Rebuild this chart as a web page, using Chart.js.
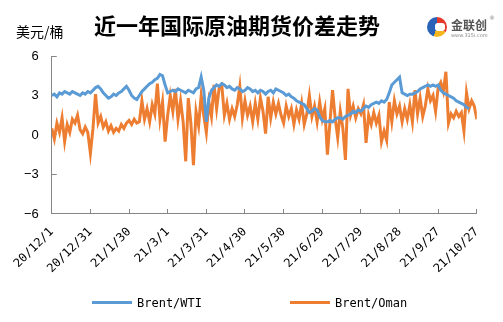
<!DOCTYPE html>
<html>
<head>
<meta charset="utf-8">
<script src="https://cdn.jsdelivr.net/npm/chart.js@4.4.0/dist/chart.umd.min.js"></script>
<style>
    body { margin: 0; background: #fff; }
    #wrap { position: relative; width: 503px; height: 322px; }
    #title { position: absolute; left: 0; top: 8px; width: 474px; text-align: center; line-height: 26px;
        font: bold 22px "Noto Sans CJK SC"; color: #000; }
    #unit { position: absolute; left: 16px; top: 21px; font: 14px "Noto Sans CJK SC"; color: #000; }
    #logo { position: absolute; left: 427px; top: 14px; width: 70px; height: 26px; }
    #logo .icon { position: absolute; left: 0; top: 3px; width: 20px; height: 20px; border-radius: 50%;
        background: conic-gradient(#e8382b 0 120deg, #f4b51f 120deg 200deg, #2a62b8 200deg 360deg); }
    #logo .icon::after { content: ''; position: absolute; left: 8px; top: 6px; width: 10px; height: 8px; background: #fff; border-radius: 3px; }
    #logo .name { position: absolute; left: 24px; top: 2px; font: bold 12px "Noto Sans CJK SC"; color: #555; }
    #logo .reg { position: absolute; left: 62px; top: 0; font: 6px "DejaVu Sans"; color: #888; }
    #logo .url { position: absolute; left: 24px; top: 18px; font: 5px "DejaVu Sans"; color: #888; }
    #legend { position: absolute; left: 0; top: 296px; width: 503px; height: 16px; }
    #legend .item { position: absolute; top: 0; font: 12px "DejaVu Sans Mono"; color: #000; line-height: 14px; }
    #legend .item i { display: inline-block; width: 40px; height: 3px; vertical-align: middle; margin-right: 5px; margin-top: -2px; }
</style>
</head>
<body>
<div id="wrap">
    <canvas id="priceSpreadChart" width="503" height="322"></canvas>
    <div id="title">近一年国际原油期货价差走势</div>
    <div id="unit">美元/桶</div>
    <div id="logo">
        <div class="icon"></div>
        <div class="name">金联创</div>
        <div class="reg">®</div>
        <div class="url">www.315i.com</div>
    </div>
    <div id="legend"></div>
</div>
<script>
// 近一年国际原油期货价差 (每两天取一个点, 起点 2020-12-01)
const stepDays = 2;

const tickLabels = ['20/12/1', '20/12/31', '21/1/30', '21/3/1', '21/3/31', '21/4/30',
    '21/5/30', '21/6/29', '21/7/29', '21/8/28', '21/9/27', '21/10/27'];

const yTicks = [-6, -3, 0, 3, 6];

const seriesNames = ['Brent/WTI', 'Brent/Oman'];
const seriesColors = ['#5B9BD5', '#ED7D31'];

const brentWti = [
    3.0, 3.1, 2.9, 3.2, 3.1, 3.3, 3.2, 3.1, 3.3, 3.2,
    3.1, 3.0, 3.2, 3.1, 3.3, 3.2, 3.4, 3.6, 3.7, 3.5,
    3.2, 3.0, 2.8, 2.9, 3.1, 3.0, 3.2, 3.3, 3.5, 3.7,
    3.4, 3.0, 2.8, 2.7, 3.0, 3.3, 3.5, 3.7, 3.9, 4.0,
    4.2, 4.3, 4.6, 4.5, 3.8, 3.2, 3.3, 3.4, 3.3, 3.5,
    3.4, 3.3, 3.2, 3.4, 3.3, 3.2, 3.5, 3.6, 4.4, 3.4,
    1.0, 2.8, 3.4, 3.6, 3.8, 3.7, 3.9, 3.8, 3.6, 3.7,
    3.5, 3.4, 3.6, 3.5, 3.3, 3.4, 3.6, 3.5, 3.3, 3.4,
    3.2, 3.4, 3.3, 3.1, 3.3, 3.4, 3.2, 3.5, 3.4, 3.3,
    3.2, 3.0, 3.1, 2.9, 2.8, 2.6, 2.5, 2.4, 2.3, 2.0,
    1.7, 1.8, 2.0, 1.9, 1.4, 1.1, 1.0, 1.0, 1.1, 1.0,
    1.2, 1.3, 1.3, 1.2, 1.4, 1.5, 1.6, 1.8, 1.7, 1.9,
    1.8, 2.0, 2.2, 2.1, 2.3, 2.4, 2.5, 2.4, 2.6, 2.5,
    2.7, 3.2, 3.8, 4.0, 4.2, 4.4, 3.2, 3.1, 3.0, 3.1,
    3.1, 3.2, 3.3, 3.5, 3.6, 3.7, 3.8, 3.7, 3.8, 3.7,
    3.8, 3.4, 3.2, 3.1, 3.0, 2.9, 2.8, 2.6, 2.5, 2.4,
    2.3, 2.1, 2.0, null, null, null
];

const brentOman = [
    0.5, -0.3, 0.9, 0.2, 1.3, -0.5, 0.8, 0.2, 1.2, 0.9,
    1.5, 0.4, 0.1, 0.6, 0.2, -1.4, 0.5, 3.1, 0.9, 1.4,
    0.6, 1.0, 0.3, 0.7, 0.2, 0.5, 0.3, 0.8, 0.5, 0.9,
    1.1, 0.8, 1.2, 0.9, 1.0, 2.6, 1.2, 2.0, 1.0, 2.3,
    1.6, 3.9, 1.2, 2.5, -0.5, 1.5, 3.0, 1.8, 3.5, 1.2,
    2.6, 1.0, -2.0, 2.8, 0.9, -2.3, 1.8, 0.7, 3.0, 1.5,
    0.2, 2.5, 1.4, 3.8, 2.0, 3.6, 3.8, 1.5, 2.4, 1.2,
    2.0, 1.4, 2.3, 3.7, 1.3, 2.6, 1.5, 2.2, 1.0, 2.4,
    1.2, 2.8, 1.8, 0.1, 2.9, 1.3, 2.5, 1.6, 2.4, 1.5,
    0.9, 2.2, 1.4, 2.0, 0.8, 1.9, 1.2, 2.4, 0.8, 1.6,
    3.0, 1.4, 2.2, 1.0, 2.5, 1.2, 2.0, -1.5, 1.0, 3.4,
    1.3, -0.2, 1.8, 0.5, -1.9, 3.5, 1.5, 2.2, 1.3, 2.0,
    1.6, 2.3, -0.6, 1.5, 0.8, 1.7, 0.9, 1.5, -0.5, 0.3,
    -0.4, 2.5, 1.0, 2.6, 1.6, 2.2, 1.0, 2.0, 1.2, 2.3,
    1.0, 3.4, 1.6, 2.8, 1.4, 2.2, 3.5, 2.6, 3.0, 1.8,
    3.6, 4.0, 3.3, 4.8, 0.9, 1.6, 1.3, 1.8, 1.4, 1.7,
    0.3, 3.2, 2.0, 2.6, 2.2, 1.2
];

document.addEventListener('DOMContentLoaded', function () {
    const chart = drawChart();
    buildLegend(chart);
});

function toPoints(values) {
    return values.map((v, i) => ({ x: i * stepDays, y: v }));
}

function drawChart() {
    const ctx = document.getElementById('priceSpreadChart').getContext('2d');
    return new Chart(ctx, {
        type: 'line',
        data: {
            datasets: [brentWti, brentOman].map((values, k) => ({
                label: seriesNames[k],
                data: toPoints(values),
                borderColor: seriesColors[k],
                backgroundColor: seriesColors[k],
                borderWidth: 3,
                pointRadius: 0,
                tension: 0,
                spanGaps: false
            }))
        },
        options: {
            responsive: false,
            animation: false,
            devicePixelRatio: 1,
            layout: {
                padding: { left: 5, right: 22, top: 56, bottom: 30 }
            },
            plugins: {
                legend: { display: false },
                tooltip: { enabled: false },
                title: { display: false }
            },
            scales: {
                x: {
                    type: 'linear',
                    min: 0,
                    max: (tickLabels.length - 1) * 30,
                    grid: { drawOnChartArea: false, drawTicks: true, tickLength: -5, color: '#868686' },
                    border: { color: '#868686', width: 1 },
                    ticks: {
                        stepSize: 30,
                        autoSkip: false,
                        maxRotation: 45,
                        minRotation: 45,
                        padding: 16,
                        color: '#000',
                        font: { family: 'DejaVu Sans Mono', size: 12 },
                        callback: function (value) {
                            return tickLabels[Math.round(value / 30)];
                        }
                    }
                },
                y: {
                    min: yTicks[0],
                    max: yTicks[yTicks.length - 1],
                    afterBuildTicks: function (axis) {
                        axis.ticks = yTicks.map(v => ({ value: v }));
                    },
                    grid: { drawOnChartArea: false, drawTicks: true, tickLength: -5, color: '#868686' },
                    border: { color: '#868686', width: 1 },
                    ticks: {
                        padding: 18,
                        color: '#000',
                        font: { family: 'Liberation Sans', size: 13 },
                        callback: function (value) {
                            return value < 0 ? '\u2212' + Math.abs(value) : String(value);
                        }
                    }
                }
            }
        }
    });
}

function buildLegend(chart) {
    const legendLeft = [92, 290];
    const box = document.getElementById('legend');
    chart.data.datasets.forEach((ds, k) => {
        const item = document.createElement('span');
        item.className = 'item';
        item.style.left = legendLeft[k] + 'px';
        item.innerHTML = `<i style="background:${ds.borderColor}"></i>${ds.label}`;
        box.appendChild(item);
    });
}
</script>
</body>
</html>
